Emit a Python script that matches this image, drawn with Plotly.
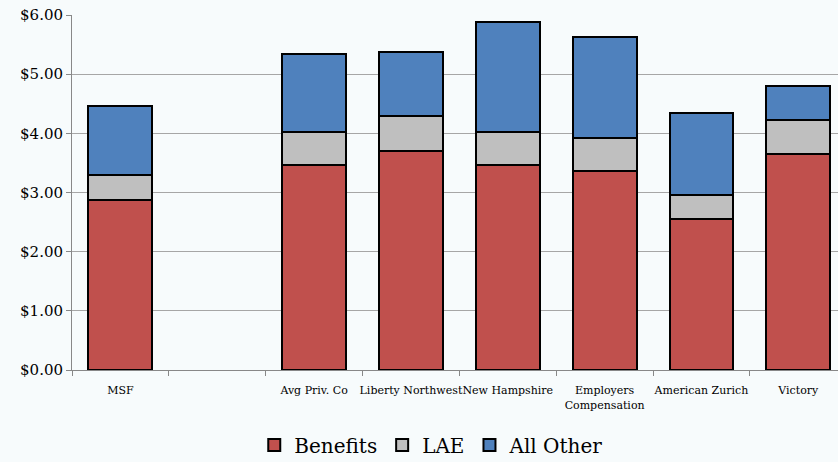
import plotly.graph_objects as go

categories = ["MSF", " ", "Avg Priv. Co", "Liberty Northwest", "New Hampshire",
              "Employers<br>Compensation", "American Zurich", "Victory"]
benefits = [2.87, None, 3.47, 3.70, 3.46, 3.36, 2.55, 3.65]
lae = [0.43, None, 0.56, 0.59, 0.56, 0.56, 0.41, 0.58]
all_other = [1.16, None, 1.31, 1.08, 1.87, 1.70, 1.39, 0.57]
y_ticks = [0, 1, 2, 3, 4, 5, 6]
y_labels = ["$0.00", "$1.00", "$2.00", "$3.00", "$4.00", "$5.00", "$6.00"]

FONT = "DejaVu Serif"

fig = go.Figure()
for name, vals, col in [("Benefits", benefits, "#C0504D"),
                        ("LAE", lae, "#BFBFBF"),
                        ("All Other", all_other, "#4F81BD")]:
    fig.add_trace(go.Bar(x=categories, y=vals, name=name,
                         marker=dict(color=col, line=dict(color="#000000", width=2))))

fig.update_layout(
    width=838, height=462,
    barmode="stack", bargap=0.34,
    paper_bgcolor="#F7FBFC", plot_bgcolor="rgba(0,0,0,0)",
    margin=dict(l=72, r=0, t=15, b=92, autoexpand=False),
    font=dict(family=FONT, color="#000000"),
    showlegend=True,
    legend=dict(orientation="h", x=0.469, xanchor="center", y=-0.211, yanchor="middle",
                font=dict(size=20, family=FONT), traceorder="normal",
                itemwidth=30, bgcolor="rgba(0,0,0,0)"),
    xaxis=dict(type="category", range=[-0.5, 7.41], showline=True, linecolor="#888888",
               linewidth=1, ticks="outside", tickson="boundaries", ticklen=5,
               tickcolor="#888888", tickfont=dict(size=11, family=FONT),
               tickangle=0, showgrid=False, automargin=False, ticklabelstandoff=10),
    yaxis=dict(range=[0, 6], tickvals=y_ticks, ticktext=y_labels, showline=True,
               linecolor="#888888", linewidth=1, ticks="outside", ticklen=5,
               tickcolor="#888888", tickfont=dict(size=15, family=FONT),
               showgrid=True, gridcolor="#A6A6A6", gridwidth=1, zeroline=False,
               automargin=False),
)

fig.write_html("out.html")
